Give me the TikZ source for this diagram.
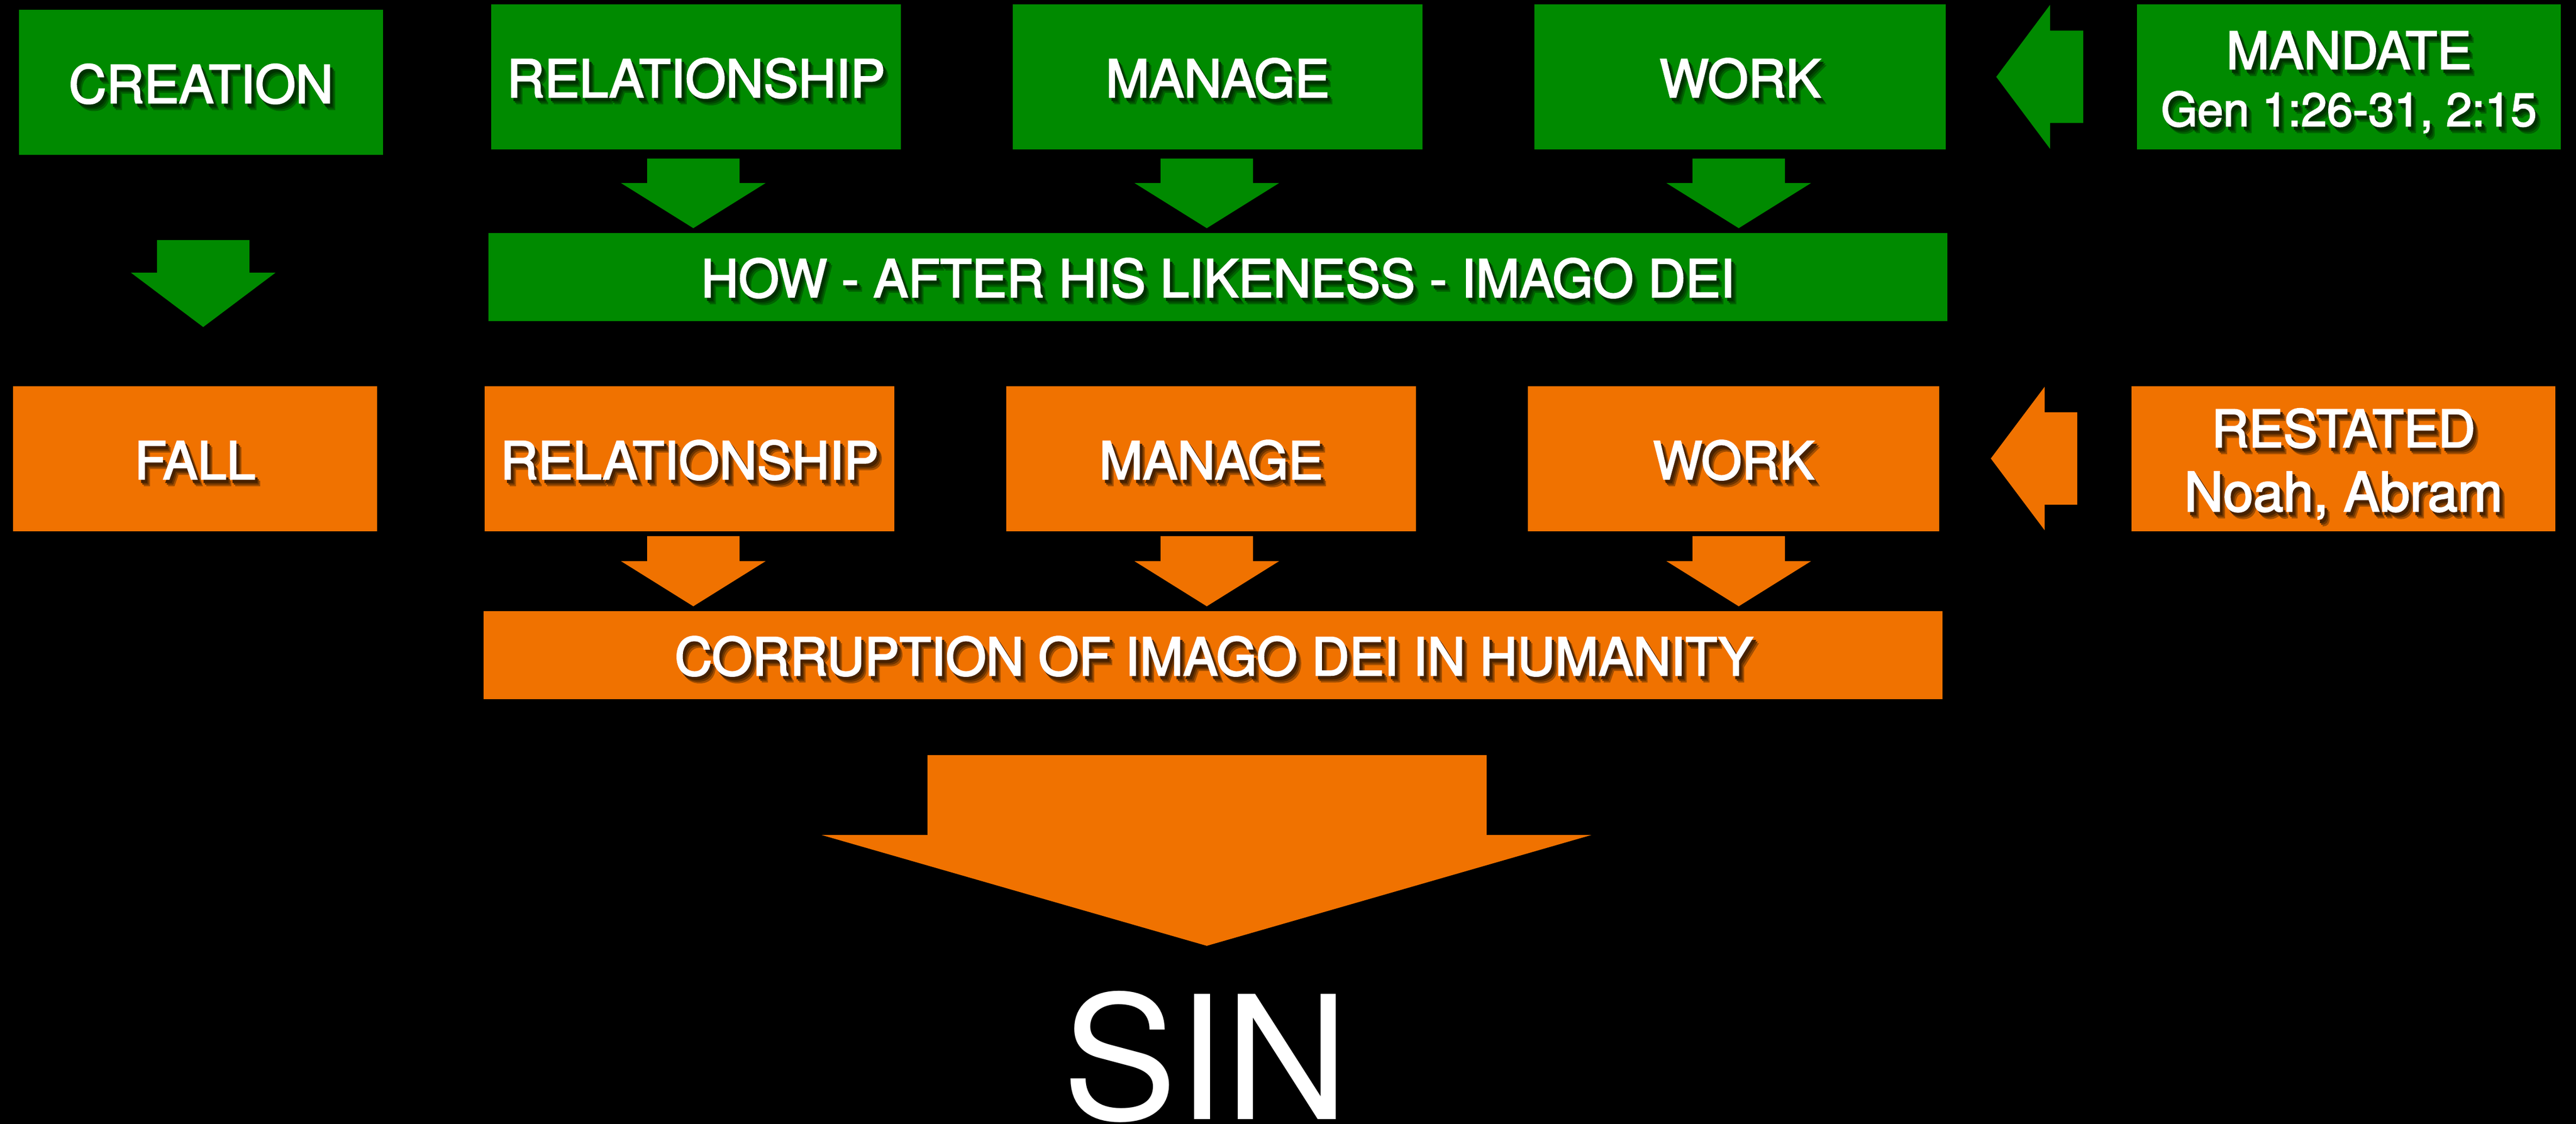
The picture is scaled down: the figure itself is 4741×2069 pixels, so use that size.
\documentclass[tikz,border=0pt]{standalone}
\usepackage{fontspec}
\setmainfont{TeX Gyre Heros}
\newfontfamily\heavy{TeX Gyre Heros}[FakeBold=2.6]
\definecolor{gfill}{RGB}{0,138,0}
\definecolor{ofill}{RGB}{240,114,0}
\colorlet{gsh1}{gfill!72!black}
\colorlet{gsh2}{gfill!52!black}
\colorlet{gsh3}{gfill!36!black}
\colorlet{osh1}{ofill!68!black}
\colorlet{osh2}{ofill!46!black}
\colorlet{osh3}{ofill!30!black}
% shadowed text: three shadow colours (light to dark), then the text
\newcommand\shd[4]{%
  \makebox[0pt][l]{\hspace{0.95mm}\raisebox{-1.2mm}{\color{#1}#4}}%
  \makebox[0pt][l]{\hspace{0.7mm}\raisebox{-0.9mm}{\color{#2}#4}}%
  \makebox[0pt][l]{\hspace{0.45mm}\raisebox{-0.6mm}{\color{#3}#4}}%
  #4}
\newcommand\gsh[1]{\shd{gsh1}{gsh2}{gsh3}{#1}}
\newcommand\osh[1]{\shd{osh1}{osh2}{osh3}{#1}}
\tikzset{
  gbox/.style={rectangle, fill=gfill, inner sep=0pt, minimum height=26.7mm},
  obox/.style={rectangle, fill=ofill, inner sep=0pt, minimum height=26.7mm},
  lbl/.style={text=white, inner sep=0pt, anchor=base},
  fmain/.style={font=\heavy\fontsize{27.3}{30}\selectfont},
  fside/.style={font=\heavy\fontsize{27}{30}\selectfont},
  fnoah/.style={font=\heavy\fontsize{28.3}{30}\selectfont},
  fref/.style={font=\heavy\fontsize{24.4}{28}\selectfont},
  fsin/.style={font=\fontsize{90}{100}\selectfont},
}
% colour, cx, ytop, ybase, ytip, halfshaft, halfhead
\newcommand\blkdown[7]{%
  \fill[#1] ({#2-#6},#3) -- ({#2+#6},#3) -- ({#2+#6},#4) -- ({#2+#7},#4) -- (#2,#5)
    -- ({#2-#7},#4) -- ({#2-#6},#4) -- cycle;}
% colour, cy, xtip, xbase, xend, halfshaft, halfhead
\newcommand\blkleft[7]{%
  \fill[#1] (#3,#2) -- (#4,{#2-#7}) -- (#4,{#2-#6}) -- (#5,{#2-#6}) -- (#5,{#2+#6})
    -- (#4,{#2+#6}) -- (#4,{#2+#7}) -- cycle;}
\begin{document}
\begin{tikzpicture}[x=0.1mm,y=-0.1mm]
\fill[black] (0,0) rectangle (4741,2069);
\useasboundingbox (0,0) rectangle (4741,2069);

% ---------- green row ----------
\node[gbox, minimum width=67mm] (crea) at (370,151.5) {};
\node[gbox, minimum width=75.4mm] (grel) at (1281,141.5) {};
\node[gbox, minimum width=75.4mm] (gman) at (2241,141.5) {};
\node[gbox, minimum width=75.7mm] (gwork) at (3202.5,141.5) {};
\node[gbox, minimum width=78mm] (mandate) at (4323,141.5) {};
\node[gbox, minimum width=268.5mm, minimum height=16.2mm] (how) at (2241.5,510) {};

\node[lbl, fmain] (t-crea) at (370,189.5) {\gsh{CREATION}};
\node[lbl, fmain] (t-grel) at (1281,179) {\gsh{RELATIONSHIP}};
\node[lbl, fmain] (t-gman) at (2241,179) {\gsh{MANAGE}};
\node[lbl, fmain] (t-gwork) at (3202.5,179) {\gsh{WORK}};
\node[lbl, fside] (t-mand1) at (4323,127) {\gsh{MANDATE}};
\node[lbl, fref] (t-mand2) at (4323,232) {\gsh{Gen 1:26-31, 2:15}};
\node[lbl, fmain] (t-how) at (2241.5,547) {\gsh{HOW - AFTER HIS LIKENESS - IMAGO DEI}};

\blkdown{gfill}{1276}{292}{337}{420}{85}{133}
\blkdown{gfill}{2221}{292}{337}{420}{85}{133}
\blkdown{gfill}{3200}{292}{337}{420}{85}{133}
\blkdown{gfill}{374}{442}{502}{602}{85}{133}
\blkleft{gfill}{141.5}{3674}{3773}{3834}{85}{132.5}

% ---------- orange row ----------
\node[obox, minimum width=67mm] (fall) at (359,844.5) {};
\node[obox, minimum width=75.4mm] (orel) at (1269,844.5) {};
\node[obox, minimum width=75.4mm] (oman) at (2229,844.5) {};
\node[obox, minimum width=75.7mm] (owork) at (3190.5,844.5) {};
\node[obox, minimum width=78mm] (restated) at (4313,844.5) {};
\node[obox, minimum width=268.5mm, minimum height=16.2mm] (corr) at (2232.5,1206) {};

\node[lbl, fmain] (t-fall) at (359,882) {\osh{FALL}};
\node[lbl, fmain] (t-orel) at (1269,882) {\osh{RELATIONSHIP}};
\node[lbl, fmain] (t-oman) at (2229,882) {\osh{MANAGE}};
\node[lbl, fmain] (t-owork) at (3190.5,882) {\osh{WORK}};
\node[lbl, fside] (t-rest1) at (4313,823) {\osh{RESTATED}};
\node[lbl, fnoah] (t-rest2) at (4313,941) {\osh{Noah, Abram}};
\node[lbl, fmain] (t-corr) at (2234,1243) {\osh{CORRUPTION OF IMAGO DEI IN HUMANITY}};

\blkdown{ofill}{1276}{987}{1033}{1116}{85}{133}
\blkdown{ofill}{2221}{987}{1033}{1116}{85}{133}
\blkdown{ofill}{3200}{987}{1033}{1116}{85}{133}
\blkleft{ofill}{844}{3664}{3763}{3823}{85}{132}

% ---------- big arrow and SIN ----------
\fill[ofill] (1707,1390) -- (2736,1390) -- (2736,1537) -- (2929,1537) -- (2221,1741)
  -- (1512,1537) -- (1707,1537) -- cycle;
\node[lbl, fsin] (sin) at (2219,2060) {SIN};
\end{tikzpicture}
\end{document}
